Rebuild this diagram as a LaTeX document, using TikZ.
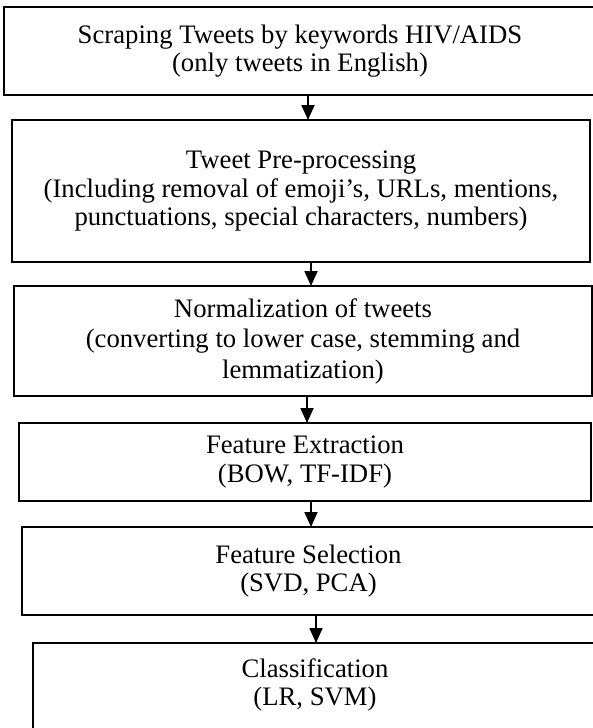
\documentclass[tikz,border=0pt]{standalone}
\usepackage{fontspec}
\setmainfont{Liberation Serif}
\usetikzlibrary{arrows.meta}
\begin{document}
\begin{tikzpicture}[x=1pt,y=-1pt,
  box/.style={draw, line width=2.6pt, inner sep=0pt, outer sep=0pt, align=center,
    font=\fontsize{26.7}{28.5}\selectfont},
  arr/.style={line width=1.8pt, -{Triangle[width=13pt,length=15pt]}}]
\useasboundingbox (0,0) rectangle (593,728);
\clip (0,0) rectangle (593,728);
\node[box, minimum width=592pt, minimum height=88pt] (b1) at (300,51)
  {Scraping Tweets by keywords HIV/AIDS\\(only tweets in English)};
\node[box, minimum width=578pt, minimum height=142pt] (b2) at (301,191)
  {Tweet Pre-processing\\(Including removal of emoji’s, URLs, mentions,\\punctuations, special characters, numbers)};
\node[box, minimum width=578pt, minimum height=110pt, font=\fontsize{26.7}{30.5}\selectfont] (b3) at (303,341)
  {Normalization of tweets\\(converting to lower case, stemming and\\lemmatization)};
\node[box, minimum width=572pt, minimum height=78pt] (b4) at (305,462)
  {Feature Extraction\\(BOW, TF-IDF)};
\node[box, minimum width=573pt, minimum height=88pt] (b5) at (308.5,571)
  {Feature Selection\\(SVD, PCA)};
\node[box, minimum width=564pt, minimum height=114pt, text depth=36pt] (b6) at (315,700)
  {Classification\\(LR, SVM)};
\draw[arr] (b1.south -| 308,0) -- (b2.north -| 308,0);
\draw[arr] (b2.south -| 311,0) -- (b3.north -| 311,0);
\draw[arr] (b3.south -| 307,0) -- (b4.north -| 307,0);
\draw[arr] (b4.south -| 311,0) -- (b5.north -| 311,0);
\draw[arr] (b5.south -| 316,0) -- (b6.north -| 316,0);
\end{tikzpicture}
\end{document}
